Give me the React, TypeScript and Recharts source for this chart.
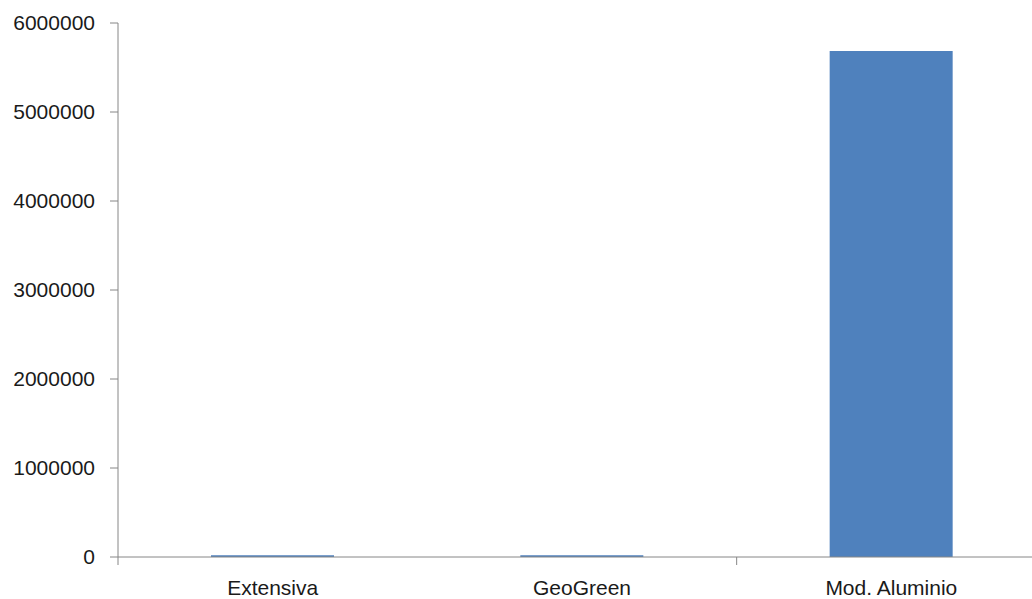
import React from "react";
import { BarChart, Bar, XAxis, YAxis } from "recharts";

const categories = ["Extensiva", "GeoGreen", "Mod. Aluminio"];
const values = [20000, 20000, 5685000];
const yTicks = [0, 1000000, 2000000, 3000000, 4000000, 5000000, 6000000];
// which category boundaries carry a tick mark: [category index, side]
const boundaryMarks: [number, number][] = [[0, -1], [1, 1]];

const data = categories.map((name, i) => ({ name, value: values[i] }));

const AXIS = "#868686";
const FONT = "'Liberation Sans', Arial, sans-serif";
const X_TICK_SIZE = 8;
const X_TICK_MARGIN = 15;

function XTick(props: any) {
  const { x, y, payload, index } = props;
  const axisY = y - X_TICK_SIZE - X_TICK_MARGIN;
  const half = payload && payload.offset ? payload.offset : 0;
  const marks = boundaryMarks.filter((m) => m[0] === index);
  return (
    <g>
      {marks.map((m, i) => (
        <line
          key={i}
          x1={x + m[1] * half}
          x2={x + m[1] * half}
          y1={axisY}
          y2={axisY + X_TICK_SIZE}
          stroke={AXIS}
        />
      ))}
      <text
        x={x}
        y={y}
        dy="0.71em"
        textAnchor="middle"
        fill="#1a1a1a"
        fontSize={21}
        fontFamily={FONT}
      >
        {payload.value}
      </text>
    </g>
  );
}

export default function App() {
  return (
    <div style={{ position: "fixed", left: 0, top: 0, width: 1032, height: 599, overflow: "hidden", background: "#fff" }}>
      <BarChart
        width={1060}
        height={599}
        data={data}
        margin={{ top: 23, right: 14, bottom: 0, left: 0 }}
        barSize={123}
      >
        <YAxis
          width={118}
          domain={[0, 6000000]}
          ticks={yTicks}
          interval={0}
          tickSize={8}
          tickMargin={15}
          axisLine={{ stroke: AXIS }}
          tickLine={{ stroke: AXIS }}
          tick={{ fill: "#1a1a1a", fontSize: 21, fontFamily: FONT }}
        />
        <XAxis
          dataKey="name"
          height={42}
          tickSize={X_TICK_SIZE}
          tickMargin={X_TICK_MARGIN}
          interval={0}
          axisLine={{ stroke: AXIS }}
          tickLine={false}
          tick={<XTick />}
        />
        <Bar dataKey="value" fill="#4F81BD" isAnimationActive={false} />
      </BarChart>
    </div>
  );
}
